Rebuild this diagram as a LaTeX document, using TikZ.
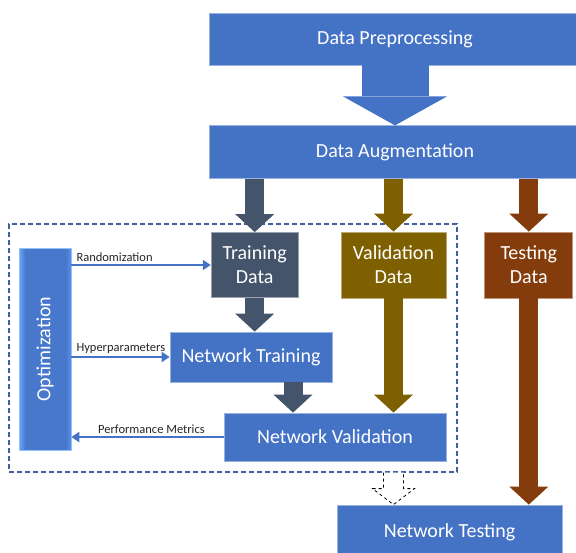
\documentclass[tikz,border=0pt]{standalone}
\usepackage{fontspec}
\setmainfont{Carlito}
\usetikzlibrary{positioning, arrows.meta, calc}

\definecolor{stageblue}{HTML}{4472C4}
\definecolor{slate}{HTML}{44546A}
\definecolor{olive}{HTML}{7F6000}
\definecolor{rust}{HTML}{843C0C}
\definecolor{loopblue}{HTML}{41609E}
\definecolor{optlight}{HTML}{62A8FA}
\definecolor{optbody}{HTML}{4878CC}
\definecolor{optedge}{HTML}{5A92E6}

% bevel look of the optimization bar
\pgfdeclarehorizontalshading{optshade}{100bp}{color(0bp)=(optlight); color(25bp)=(optlight); color(31bp)=(optbody); color(70bp)=(optbody); color(75bp)=(optedge); color(100bp)=(optedge)}

\begin{document}
\begin{tikzpicture}[
  x=1pt, y=-1pt,
  stage/.style={draw=#1!55!white, line width=0.8pt, fill=#1, text=white, font=\fontsize{20}{24}\selectfont, align=center, inner sep=0pt},
  stage/.default=stageblue,
  optbar/.style={draw=optlight!70!white, line width=0.6pt, shading=optshade, text=white, font=\fontsize{20}{24}\selectfont, inner sep=0pt},
  flow/.style={line width=2.4pt, color=stageblue, -{Triangle[width=10pt,length=8pt]}},
  fat/.style={line width=19pt, color=#1, -{Triangle[width=39pt,length=18pt,line width=0pt]}},
  lbl/.style={font=\fontsize{12.5}{15}\selectfont, text=black!85, inner sep=2pt}
]
\useasboundingbox (0,0) rectangle (576,552);

% Tuning loop
\node[draw=loopblue, line width=1.2pt, dash pattern=on 5pt off 3pt, minimum width=448pt, minimum height=248pt] (loop) at (233,348) {};

% Stages
\node[stage, minimum width=372pt, minimum height=52pt] (pre) at (395,39) {Data Preprocessing};
\node[stage, minimum width=372pt, minimum height=53pt, below=60pt of pre] (aug) {Data Augmentation};
\node[stage=olive, minimum width=105pt, minimum height=66pt] (valid) at (393.5,265) {Validation\\Data};
\node[stage=slate, minimum width=87pt, minimum height=65pt, left=42pt of valid] (train) {Training\\Data};
\node[stage=rust, minimum width=88pt, minimum height=66pt, right=38pt of valid] (test) {Testing\\Data};
\node[stage, minimum width=162pt, minimum height=50pt] (ntrain) at (251,357) {Network Training};
\node[stage, minimum width=222pt, minimum height=48pt] (nval) at (335,437) {Network Validation};
\node[stage, minimum width=225pt, minimum height=54pt] (ntest) at (449.5,532) {Network Testing};
\node[optbar, minimum width=52pt, minimum height=202pt] (opt) at (45,349) {\rotatebox{90}{Optimization}};

% Block arrows
\draw[line width=67pt, color=stageblue, -{Triangle[width=104pt,length=29pt,line width=0pt]}] (pre.south) -- (aug.north);
\draw[fat=slate] (train |- aug.south) -- (train.north);
\draw[fat=olive] (valid |- aug.south) -- (valid.north);
\draw[fat=rust] (test |- aug.south) -- (test.north);
\draw[fat=slate] (train.south) -- (train |- ntrain.north);
\draw[fat=slate] ([xshift=42pt]ntrain.south) -- ([xshift=42pt]ntrain.south |- nval.north);
\draw[fat=olive] (valid.south) -- (valid |- nval.north);
\draw[fat=rust] (test.south) -- (test |- ntest.north);

% Hand-over to testing
\coordinate (out) at (valid |- loop.south);
\draw[dashed, line width=0.8pt, fill=white] ($(out)+(-10,0)$) -- ($(out)+(-10,16)$) -- ($(out)+(-21,16)$) -- (valid |- ntest.north) -- ($(out)+(21,16)$) -- ($(out)+(10,16)$) -- ($(out)+(10,0)$);

% Optimization links
\draw[flow] (opt.east |- train.west) -- node[lbl, at start, anchor=south west, xshift=2pt] {Randomization} (train.west);
\draw[flow] (opt.east |- ntrain.west) -- node[lbl, at start, anchor=south west, xshift=2pt] {Hyperparameters} (ntrain.west);
\draw[flow] (nval.west) -- node[lbl, above, xshift=4pt] {Performance Metrics} (opt.east |- nval.west);

\end{tikzpicture}
\end{document}
